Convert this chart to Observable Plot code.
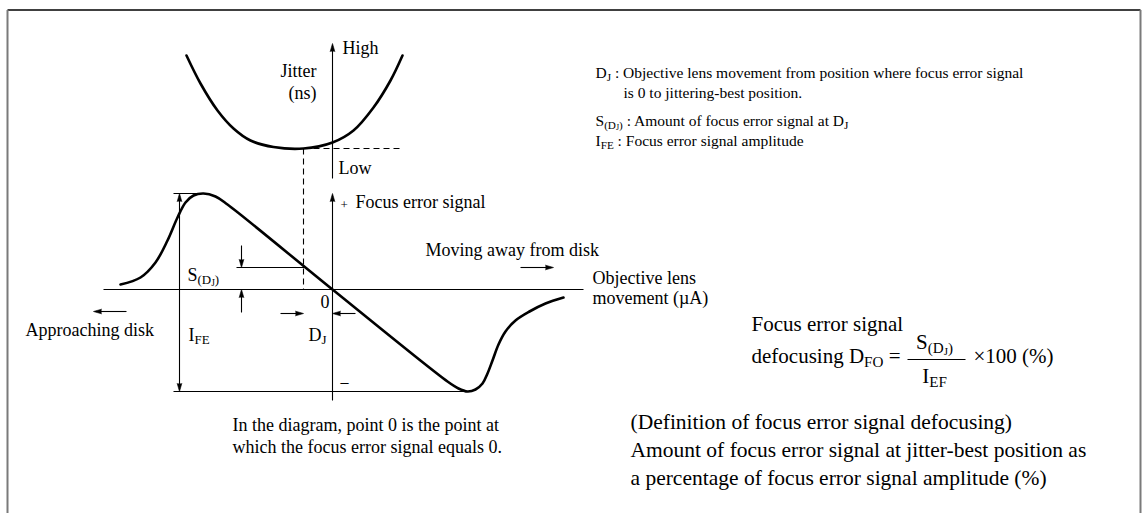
<!DOCTYPE html>
<html><head><meta charset="utf-8">
<script src="https://cdn.jsdelivr.net/npm/d3@7"></script>
<script src="https://cdn.jsdelivr.net/npm/@observablehq/plot@0.6"></script>
<style>body{margin:0;background:#fff;} svg{display:block}</style>
</head><body><div id="chart"></div>
<script>
// ---- Data (diagram units: x = objective lens movement, 0 = focus error zero point; y = signal level) ----
// Focus error signal S-curve
const feMove   = [-212,-192,-177,-165,-155,-147,-139,-129,-117,-105,0,115,126,135,143,150,155,160,166,173,183,197,213,231];
const feSignal = [5,12,27,49,72,87,94,96,93,85,0,-92,-99,-102,-100,-94,-84,-71,-55,-42,-31,-22,-14,-8];
// Jitter curve (upper graph)
const jitMove  = [-146,-132,-115,-99,-82,-59,-29,0,21,41,58,70];
const jitLevel = [234,206,179,161,149,142.5,141,147,159,182,209,234];

const feCurve = feMove.map((x, i) => ({x, y: feSignal[i]}));
const jitCurve = jitMove.map((x, i) => ({x, y: jitLevel[i]}));

// Straight guide segments
const solidSegs = [
  {x1:-229,y1:0,x2:251,y2:0},        // objective lens movement axis
  {x1:0,y1:-111,x2:0,y2:94},         // focus error signal axis
  {x1:0,y1:111,x2:0,y2:244},         // jitter axis
  {x1:-159,y1:96,x2:-127,y2:96},     // peak level
  {x1:-159,y1:-102,x2:138,y2:-102},  // bottom level
  {x1:-153,y1:94,x2:-153,y2:-100},   // I_FE
  {x1:-96,y1:22,x2:-28,y2:22},       // S(DJ) level
  {x1:-91,y1:44,x2:-91,y2:24},
  {x1:-91,y1:-2,x2:-91,y2:-23},
  {x1:-52,y1:-24,x2:-31,y2:-24},     // D_J arrows
  {x1:23,y1:-24,x2:2,y2:-24},
  {x1:-206,y1:-22,x2:-237,y2:-22},   // approaching disk
  {x1:188,y1:22,x2:219,y2:22},       // moving away
  {x1:575,y1:-70,x2:633,y2:-70}      // fraction bar
];
const dashedSegs = [
  {x1:-29,y1:141,x2:-29,y2:0},
  {x1:-29,y1:141,x2:68,y2:141}
];
const frameSegs = [
  {x1:-325,y1:279.5,x2:808,y2:279.5}
];
const frameSides = [
  {x1:-325,y1:279.5,x2:-325,y2:-224},
  {x1:808,y1:279.5,x2:808,y2:-224}
];
// Arrow heads: tip position and direction (degrees clockwise from up)
const heads = [
  {x:0,y:246,dir:0},{x:0,y:96,dir:0},
  {x:-153,y:96,dir:0},{x:-153,y:-102,dir:180},
  {x:-91,y:22,dir:180},{x:-91,y:0,dir:0},
  {x:-29,y:-24,dir:90},{x:0,y:-24,dir:270},
  {x:-239,y:-22,dir:270},{x:221,y:22,dir:90}
];

// Labels
const mainLabels = [
  {x:10,y:236,t:"High"},
  {x:6,y:116,t:"Low"},
  {x:23,y:82,t:"Focus error signal"},
  {x:-12,y:-18,t:"0"},
  {x:-24,y:-51,t:"D_{J}"},
  {x:-145,y:9,t:"S_{(D_{J})}"},
  {x:-144,y:-51,t:"I_{FE}"},
  {x:-307,y:-46,t:"Approaching disk"},
  {x:93,y:34,t:"Moving away from disk"},
  {x:260,y:6,t:"Objective lens"},
  {x:260,y:-14,t:"movement (µA)"},
  {x:-100,y:-141,t:"In the diagram, point 0 is the point at"},
  {x:-100,y:-163,t:"which the focus error signal equals 0."}
];
const axisTitleLines = [
  {x:-16,y:213,t:"Jitter"},
  {x:-16,y:191,t:"(ns)"}
];
const signLabels = [
  {x:8,y:81,t:"+"},
  {x:8,y:-97,t:"–"}
];
const noteLabels = [
  {x:263,y:212,t:"D_{J} : Objective lens movement from position where focus error signal"},
  {x:291,y:192,t:"is 0 to jittering-best position."},
  {x:263,y:164,t:"S_{(D_{J})} : Amount of focus error signal at D_{J}"},
  {x:263,y:144,t:"I_{FE} : Focus error signal amplitude"}
];
const formulaLeft = [
  {x:419,y:-41,t:"Focus error signal"},
  {x:419,y:-73,t:"defocusing D_{FO} ="},
  {x:641,y:-73,t:"×100 (%)"}
];
const formulaFraction = [
  {x:602,y:-59,t:"S_{(D_{J})}"},
  {x:602,y:-93,t:"I_{EF}"}
];
const definitionLines = [
  {x:298,y:-139,t:"(Definition of focus error signal defocusing)"},
  {x:298,y:-167,t:"Amount of focus error signal at jitter-best position as"},
  {x:298,y:-195,t:"a percentage of focus error signal amplitude (%)"}
];

const link = (data, o) => Plot.link(data, {x1:"x1",y1:"y1",x2:"x2",y2:"y2",stroke:"black",...o});
const txt = (data, o) => Plot.text(data, {x:"x", y:"y", text:"t", textAnchor:"start", lineAnchor:"bottom", fill:"black", ...o});

const svg = Plot.plot({
  width: 1143, height: 513, margin: 0,
  x: {domain: [-332, 811], axis: null},
  y: {domain: [-224, 289], axis: null},
  style: {fontFamily: "'Liberation Serif', 'Times New Roman', serif", fontSize: "18px", background: "white", color: "black"},
  marks: [
    link(frameSegs, {strokeWidth: 1.5}),
    link(frameSides, {stroke: "#7a7a7a", strokeWidth: 2}),
    link(solidSegs, {strokeWidth: 1.1}),
    link(dashedSegs, {strokeWidth: 1.1, strokeDasharray: "6,4"}),
    Plot.line(feCurve, {x:"x", y:"y", curve:"catmull-rom", stroke:"black", strokeWidth:2.6}),
    Plot.line(jitCurve, {x:"x", y:"y", curve:"catmull-rom", stroke:"black", strokeWidth:2.6}),
    Plot.vector(heads, {x:"x", y:"y", rotate:"dir", length:8, r:2.3, shape:"spike", anchor:"end", fill:"black", stroke:"black", strokeWidth:0.6}),
    txt(mainLabels, {fontSize: 18}),
    txt(axisTitleLines, {fontSize: 18, textAnchor: "end"}),
    txt(signLabels.slice(0,1), {fontSize: 13}),
    txt(signLabels.slice(1), {fontSize: 16}),
    txt(noteLabels, {fontSize: 15.5}),
    txt(formulaLeft, {fontSize: 21}),
    txt(formulaFraction, {fontSize: 21, textAnchor: "middle"}),
    txt(definitionLines, {fontSize: 21.5})
  ]
});
document.getElementById("chart").appendChild(svg);

// Turn "_{...}" markup into subscript tspans
function renderSubs(root) {
  root.querySelectorAll("text").forEach(t => {
    const s = t.textContent;
    if (!s.includes("_{")) return;
    const segs = []; let level = 0, buf = "";
    for (let i = 0; i < s.length; i++) {
      if (s[i] === "_" && s[i+1] === "{") { if (buf) segs.push({text: buf, level}); buf = ""; level++; i++; }
      else if (s[i] === "}") { if (buf) segs.push({text: buf, level}); buf = ""; level--; }
      else buf += s[i];
    }
    if (buf) segs.push({text: buf, level});
    const base = parseFloat(getComputedStyle(t).fontSize);
    t.textContent = "";
    let cur = 0;
    for (const g of segs) {
      const off = g.level === 0 ? 0 : g.level === 1 ? 0.2 * base : 0.3 * base;
      const ts = document.createElementNS("http://www.w3.org/2000/svg", "tspan");
      ts.setAttribute("font-size", (base * Math.pow(0.72, g.level)).toFixed(2) + "px");
      ts.setAttribute("dy", (off - cur).toFixed(2));
      ts.textContent = g.text;
      cur = off;
      t.appendChild(ts);
    }
  });
}
renderSubs(svg);
</script></body></html>
